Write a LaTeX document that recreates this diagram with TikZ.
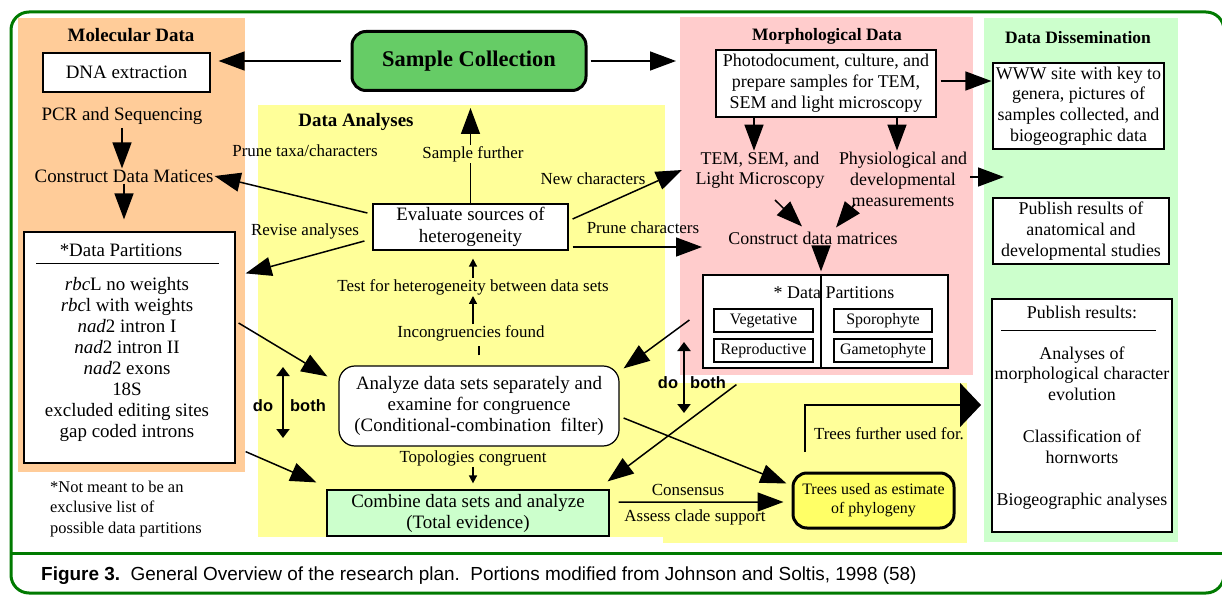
\documentclass[tikz,border=0pt]{standalone}
\usepackage{fontspec}
\setmainfont{Liberation Serif}
\newfontfamily\arialfont{Liberation Sans}
\usetikzlibrary{arrows.meta,calc}

\definecolor{molorange}{HTML}{FFCC99}
\definecolor{anayellow}{HTML}{FFFF99}
\definecolor{morphpink}{HTML}{FFCCCC}
\definecolor{disgreen}{HTML}{CCFFCC}
\definecolor{samplegreen}{HTML}{66CC66}
\definecolor{treeyellow}{HTML}{FFFF66}
\definecolor{framegreen}{HTML}{007A00}

\newcommand{\szmain}{\fontsize{19}{21}\selectfont}
\newcommand{\szlbl}{\fontsize{17}{20}\selectfont}
\newcommand{\szmorph}{\fontsize{18}{21}\selectfont}
\newcommand{\szsmall}{\fontsize{16}{19}\selectfont}
\newcommand{\sznote}{\fontsize{16.5}{21}\selectfont}

\begin{document}
\begin{tikzpicture}[x=1bp, y=-1bp,
  panel/.style={draw=none, inner sep=0pt, anchor=north west},
  box/.style={draw, line width=1.2bp, fill=white, align=center, inner sep=0pt},
  txt/.style={inner sep=1bp, align=center},
  ttl/.style={inner sep=1bp, font=\bfseries\fontsize{19}{21}\selectfont},
  ttls/.style={inner sep=1bp, font=\bfseries\fontsize{17.5}{21}\selectfont},
  con/.style={line width=1.5bp},
  bigarrow/.style={con, -{Triangle[length=26bp,width=19bp]}},
  smallarrow/.style={con, -{Triangle[length=8bp,width=8bp]}},
  tfarrow/.style={con, -{Triangle[length=21bp,width=44bp]}},
  botharrow/.style={line width=2bp, {Triangle[length=9bp,width=13bp]}-{Triangle[length=9bp,width=13bp]}},
  dob/.style={inner sep=0pt, font=\arialfont\bfseries\fontsize{16.5}{19}\selectfont}]
  \useasboundingbox (0,0) rectangle (1222,595);

  % coloured areas
  \node[panel, fill=molorange, minimum width=227bp, minimum height=454bp] (molec) at (18,18) {};
  \node[panel, fill=anayellow, minimum width=407bp, minimum height=432bp] (analyses) at (258,105) {};
  \node[panel, fill=anayellow, minimum width=304bp, minimum height=160bp] (treearea) at (663,383) {};
  \node[panel, fill=morphpink, minimum width=293bp, minimum height=358bp] (morph) at (680,17) {};
  \node[panel, fill=disgreen, minimum width=194bp, minimum height=524bp] (dissem) at (984,18) {};
  \draw[framegreen, line width=3bp, rounded corners=18bp] (11,12) rectangle (1224,593);
  \draw[framegreen, line width=3bp] (11,553) -- (1224,553);

  \node[box, fill=samplegreen, line width=3bp, rounded corners=14bp, minimum width=234bp, minimum height=59bp,
    font=\bfseries\fontsize{22.5}{26}\selectfont] (sample) at (469,61) {Sample Collection};

  % molecular data
  \node[ttl] (moltitle) at (131,35) {Molecular Data};
  \node[box, minimum width=167bp, minimum height=39bp, font=\szmain] (dna) at (126.5,72.5) {DNA extraction};
  \node[txt, font=\szmain] (pcr) at (122,116) {PCR and Sequencing};
  \node[txt, font=\szmain] (cdm) at (124,176) {Construct Data Matices};
  \node[box, minimum width=211bp, minimum height=231bp] (molpart) at (129.5,347.5) {};
  \node[txt, font=\szmain] (molptitle) at (121,250) {*Data Partitions};
  \draw[line width=1.2bp] ($(molpart.north west)+(13,32)$) -- ($(molpart.north east)+(-17,32)$);
  \node[txt, font=\szmain] (mollist) at (127,359.5) {\textit{rbc}L no weights\\\textit{rbc}l with weights\\\textit{nad}2 intron I\\
    \textit{nad}2 intron II\\\textit{nad}2 exons\\18S\\excluded editing sites\\gap coded introns};
  \node[txt, font=\sznote, align=left, anchor=west] (note) at (49,509) {*Not meant to be an\\exclusive list of\\possible data partitions};

  % data analyses
  \node[ttl] (anatitle) at (356,122) {Data Analyses};
  \node[box, minimum width=195bp, minimum height=46bp, font=\fontsize{19}{22}\selectfont] (eval) at (470.5,227) {Evaluate sources of\\heterogeneity};
  \node[txt, font=\szlbl] (sfurther) at (473,154) {Sample further};
  \node[txt, font=\szlbl] (prunetax) at (305,151) {Prune taxa/characters};
  \node[txt, font=\szlbl] (revise) at (305,231) {Revise analyses};
  \node[txt, font=\szlbl] (newchar) at (593,179) {New characters};
  \node[txt, font=\szlbl] (prunechar) at (643,228) {Prune characters};
  \node[txt, font=\szlbl] (test) at (473,287) {Test for heterogeneity between data sets};
  \node[txt, font=\szlbl] (incong) at (471,333) {Incongruencies found};
  \node[box, rounded corners=16bp, minimum width=280bp, minimum height=80bp, font=\szmain] (analyze) at (479,406)
    {Analyze data sets separately and\\examine for congruence\\(Conditional-combination\ \ filter)};
  \node[txt, font=\szlbl] (topo) at (473,458) {Topologies congruent};
  \node[box, fill=disgreen, minimum width=282bp, minimum height=46bp, font=\szmain] (combine) at (468,513)
    {Combine data sets and analyze\\(Total evidence)};
  \node[dob] (do1) at (263,406) {do};
  \node[dob] (both1) at (308,406) {both};
  \node[dob] (do2) at (668,383) {do};
  \node[dob] (both2) at (708,383) {both};
  \node[txt, font=\szlbl] (consensus) at (688,490) {Consensus};
  \node[txt, font=\szlbl] (assess) at (695,517) {Assess clade support};
  \node[box, fill=treeyellow, line width=3bp, rounded corners=14bp, minimum width=161bp, minimum height=55bp,
    font=\szsmall] (trees) at (873.5,500.5) {Trees used as estimate\\of phylogeny};
  \node[txt, font=\szlbl] (further) at (889,434) {Trees further used for.};

  % morphological data
  \node[ttls] (morphtitle) at (827,36) {Morphological Data};
  \node[box, minimum width=220bp, minimum height=67bp, font=\szmorph] (photo) at (826,83.5)
    {Photodocument, culture, and\\prepare samples for TEM,\\SEM and light microscopy};
  \node[txt, font=\fontsize{18}{20}\selectfont] (tem) at (760,170) {TEM, SEM, and\\Light Microscopy};
  \node[txt, font=\szmorph] (physio) at (903,179) {Physiological and\\developmental\\measurements};
  \node[txt, font=\szmorph] (cdm2) at (813,238) {Construct data matrices};
  \node[box, minimum width=245bp, minimum height=93bp] (morphpart) at (825.5,321.5) {};
  \draw[line width=1.2bp] ($(morphpart.north)+(-4.5,0)$) -- ($(morphpart.south)+(-4.5,0)$);
  \node[txt, font=\szmorph] (morphptitle) at (834,293) {* Data Partitions};
  \node[box, minimum width=99bp, minimum height=23bp, font=\szsmall] (veg) at (763.5,320.5) {Vegetative};
  \node[box, minimum width=99bp, minimum height=23bp, font=\szsmall] (repro) at (763.5,350.5) {Reproductive};
  \node[box, minimum width=98bp, minimum height=23bp, font=\szsmall] (sporo) at (883,320.5) {Sporophyte};
  \node[box, minimum width=98bp, minimum height=23bp, font=\szsmall] (gameto) at (883,350.5) {Gametophyte};

  % data dissemination
  \node[ttls] (distitle) at (1078,38) {Data Dissemination};
  \node[box, minimum width=171bp, minimum height=86bp, font=\fontsize{18}{20.7}\selectfont] (www) at (1078.5,106)
    {WWW site with key to\\genera, pictures of\\samples collected, and\\biogeographic data};
  \node[box, minimum width=176bp, minimum height=66bp, font=\szmorph] (pubanat) at (1081,231)
    {Publish results of\\anatomical and\\developmental studies};
  \node[box, minimum width=180bp, minimum height=233bp] (pub) at (1082,415.5) {};
  \node[txt, font=\szmorph] (pubtitle) at (1082,312) {Publish results:};
  \draw[line width=1.2bp] ($(pub.north west)+(10,32)$) -- ($(pub.north east)+(-17,32)$);
  \node[txt, font=\szmorph] (publist) at (1082,428)
    {Analyses of\\morphological character\\evolution\\[21bp]Classification of\\hornworts\\[21bp]Biogeographic analyses};

  % free ends
  \coordinate (newc) at (682,170);
  \coordinate (prc) at (702,247);
  \coordinate (dissin) at (1004,177);
  \coordinate (tf) at (805,452);
  \coordinate (tfend) at (981,405);
  \coordinate (db1a) at (283,367);
  \coordinate (db1b) at (283,438);
  \coordinate (db2a) at (684,342);
  \coordinate (db2b) at (684,413);

  % connectors
  \draw[bigarrow, shorten <=10bp, shorten >=8bp] (sample.west) -- (sample.west -| dna.east);
  \draw[bigarrow, shorten <=3bp, shorten >=4bp] (sample.east) -- (sample.east -| morph.west);
  \draw[bigarrow, shorten <=2bp] (pcr.south) -- (pcr.south |- cdm.north);
  \draw[bigarrow, shorten >=12bp] (cdm.south) -- (cdm.south |- molpart.north);
  \draw[bigarrow] ($(eval.west)+(-5,-14)$) -- (cdm.east);
  \draw[bigarrow] ($(eval.west)+(-8,14)$) -- ($(molpart.north east)+(10,42)$);
  \draw[con] (eval.north) -- (eval.north |- sfurther.south);
  \draw[bigarrow, shorten >=16bp] (eval.north |- sfurther.north) -- (eval.north |- sample.south);
  \draw[bigarrow] ($(eval.east)+(4,-8)$) -- (newc);
  \draw[bigarrow] ($(eval.east)+(4,20)$) -- (prc);
  \draw[smallarrow, shorten >=8bp] (test.north) -- (test.north |- eval.south);
  \draw[smallarrow] (test.south |- incong.north) -- (test.south);
  \draw[con, shorten <=10bp, shorten >=4bp] (analyze.north) -- (analyze.north |- incong.south);
  \draw[smallarrow, shorten >=6bp] (topo.south) -- (topo.south |- combine.north);
  \draw[bigarrow] ($(molpart.east)+(3,-24.5)$) -- ($(analyze.north west)+(-11,11)$);
  \draw[bigarrow] ($(molpart.south east)+(10,-12)$) -- ($(combine.north west)+(-10,-7)$);
  \draw[bigarrow] ($(morphpart.west)+(-13,-1.5)$) -- ($(analyze.north east)+(4,3)$);
  \draw[bigarrow] ($(morphpart.south west)+(34,16)$) -- ($(combine.north east)+(-2,-8)$);
  \draw[bigarrow] ($(analyze.east)+(4,12)$) -- ($(trees.north west)+(-5,12)$);
  \draw[bigarrow] ($(combine.east)+(9,-11)$) -- ($(trees.west)+(-8,1.5)$);
  \draw[tfarrow] (tf) |- (tfend);
  \draw[botharrow] (db1a) -- (db1b);
  \draw[botharrow] (db2a) -- (db2b);
  \draw[bigarrow] ($(photo.east)+(4,-2.5)$) -- ($(www.west)+(-1,-25)$);
  \draw[bigarrow] ($(photo.south)+(-72,0)$) -- ($(tem.north)+(-6,0)$);
  \draw[bigarrow] ($(photo.south)+(71,0)$) -- ($(physio.north)+(-6,0)$);
  \draw[bigarrow] ($(physio.east)+(2,-2)$) -- (dissin);
  \draw[bigarrow] ($(tem)+(15,30)$) -- ($(cdm2.north)+(-11,-4)$);
  \draw[bigarrow] ($(physio)+(-48,25)$) -- ($(cdm2.north)+(23,-3)$);
  \draw[bigarrow] ($(cdm2)+(8,9)$) -- ($(morphpart.north)+(-4.5,-3)$);

  % caption
  \node[anchor=west, inner sep=0pt, font=\arialfont\fontsize{19}{22}\selectfont] (caption) at (41,576)
    {\textbf{Figure 3.}\ \ General Overview of the research plan.\ \ Portions modified from Johnson and Soltis, 1998 (58)};
\end{tikzpicture}
\end{document}
